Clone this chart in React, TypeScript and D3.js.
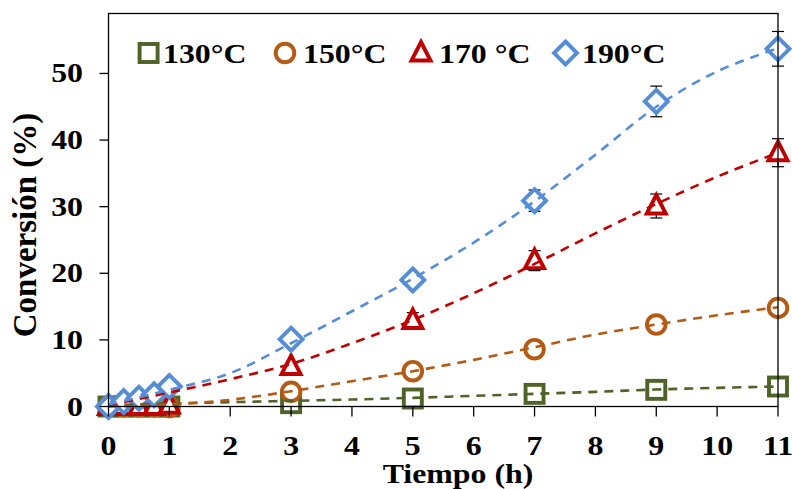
import React from "react";
import * as d3 from "d3";

const times = [0, 0.25, 0.5, 0.75, 1, 3, 5, 7, 9, 11];
const c130 = [0, 0, 0, 0, 0, 0.5, 1.2, 1.9, 2.5, 3.0];
const c150 = [0, 0, 0, 0, -0.1, 2.2, 5.3, 8.6, 12.3, 14.8];
const c170 = [0, 0, 0, 0, 0.2, 6.0, 12.9, 21.9, 30.1, 38.1];
const c190 = [0, 0.75, 1.25, 1.75, 3.0, 10.1, 19.0, 30.9, 45.8, 53.7];

const e130 = [0, 0, 0, 0, 0, 0, 0, 0, 0, 0];
const e150 = [0, 0, 0, 0, 0, 0, 0, 0, 0, 0];
const e170 = [0, 0, 0, 0, 0, 0.5, 1.2, 1.5, 1.8, 2.1];
const e190 = [0, 0, 0, 0, 0, 0.5, 0.6, 1.6, 2.3, 2.6];

// trend lines
const trendTimes = [0, 1, 2, 3, 4, 5, 6, 7, 8, 9, 10, 11];
const t130 = [0.2, 0.45, 0.65, 0.85, 1.05, 1.3, 1.6, 1.9, 2.2, 2.55, 2.8, 3.0];
const t150 = [0, 0.3, 1.0, 2.3, 3.8, 5.3, 7.0, 8.9, 10.8, 12.3, 13.7, 14.9];
const t170 = [0.2, 2.1, 4.1, 6.4, 9.5, 13.0, 17.0, 21.4, 26.0, 30.4, 34.5, 38.1];
const t190 = [0.3, 2.5, 5.0, 9.5, 14.3, 19.2, 24.6, 30.8, 37.8, 45.0, 50.3, 53.8];

const xTicks = [0, 1, 2, 3, 4, 5, 6, 7, 8, 9, 10, 11];
const yTicks = [0, 10, 20, 30, 40, 50];

const seriesNames = ["130°C", "150°C", "170 °C", "190°C"];
const colors = ["#4f6228", "#b35b14", "#c00000", "#558ed5"];
const shapes = ["square", "circle", "triangle", "diamond"];

const values = [c130, c150, c170, c190];
const errors = [e130, e150, e170, e190];
const trends = [t130, t150, t170, t190];

const W = 792;
const H = 489;
const left = 108.5;
const right = 778;
const top = 13.5;
const bottom = 406.5;

const x = d3.scaleLinear().domain([0, 11]).range([left, right]);
const y = d3.scaleLinear().domain([0, 59]).range([bottom, top]);

const FONT = "'Liberation Serif', 'Times New Roman', serif";
const SX = 1.18;

function Marker({ shape, cx, cy, color, fill }: { shape: string; cx: number; cy: number; color: string; fill: string }) {
  const sw = 3.9;
  if (shape === "square") {
    return <rect x={cx - 9} y={cy - 9} width={18} height={18} fill={fill} stroke={color} strokeWidth={sw} />;
  }
  if (shape === "circle") {
    return <circle cx={cx} cy={cy} r={9.3} fill={fill} stroke={color} strokeWidth={sw} />;
  }
  if (shape === "triangle") {
    const p = d3.path();
    p.moveTo(cx, cy - 11);
    p.lineTo(cx + 9.5, cy + 7.5);
    p.lineTo(cx - 9.5, cy + 7.5);
    p.closePath();
    return <path d={p.toString()} fill={fill} stroke={color} strokeWidth={sw} strokeLinejoin="miter" />;
  }
  const p = d3.path();
  p.moveTo(cx, cy - 11.5);
  p.lineTo(cx + 11.5, cy);
  p.lineTo(cx, cy + 11.5);
  p.lineTo(cx - 11.5, cy);
  p.closePath();
  return <path d={p.toString()} fill={fill} stroke={color} strokeWidth={sw} />;
}

function SText({ x0, y0, anchor, size, children }: any) {
  return (
    <text
      transform={`translate(${x0},${y0}) scale(${SX},1)`}
      textAnchor={anchor}
      fontFamily={FONT}
      fontWeight="bold"
      fontSize={size}
      fill="#000"
    >
      {children}
    </text>
  );
}

export default function App() {
  const line = d3
    .line<number>()
    .x((_, i) => x(trendTimes[i]))
    .y((d) => y(d))
    .curve(d3.curveCatmullRom.alpha(0.5));

  const legendItems = [
    { mx: 148.6, tx: 163 },
    { mx: 285, tx: 303 },
    { mx: 421, tx: 439 },
    { mx: 565.5, tx: 582 },
  ];

  return (
    <svg width={W} height={H} style={{ position: "absolute", left: 0, top: 0, background: "#fff" }}>
      <rect x={0} y={0} width={W} height={H} fill="#fff" />
      {/* error bars */}
      {errors.map((es, si) =>
        es.map((e, i) =>
          e > 0 ? (
            <g key={"e" + si + "-" + i} stroke="#000" strokeWidth={1.2}>
              <line x1={x(times[i])} x2={x(times[i])} y1={y(values[si][i] - e)} y2={y(values[si][i] + e)} />
              <line x1={x(times[i]) - 6} x2={x(times[i]) + 6} y1={y(values[si][i] - e)} y2={y(values[si][i] - e)} />
              <line x1={x(times[i]) - 6} x2={x(times[i]) + 6} y1={y(values[si][i] + e)} y2={y(values[si][i] + e)} />
            </g>
          ) : null
        )
      )}
      {/* markers */}
      {values.map((vs, si) =>
        vs.map((v, i) => (
          <Marker key={"m" + si + "-" + i} shape={shapes[si]} cx={x(times[i])} cy={y(v)} color={colors[si]} fill="#fff" />
        ))
      )}
      {/* trend lines */}
      {trends.map((t, si) => (
        <path
          key={"t" + si}
          d={line(t) || ""}
          fill="none"
          stroke={colors[si]}
          strokeWidth={2.6}
          strokeDasharray="9,7"
        />
      ))}
      {/* frame */}
      <rect x={left} y={top} width={right - left} height={bottom - top} fill="none" stroke="#000" strokeWidth={1.3} />
      {/* x ticks */}
      {xTicks.map((t) => (
        <g key={"xt" + t}>
          <line x1={x(t)} x2={x(t)} y1={bottom} y2={bottom + 10} stroke="#000" strokeWidth={1.3} />
          <SText x0={x(t)} y0={455} anchor="middle" size={27}>
            {t}
          </SText>
        </g>
      ))}
      {/* y ticks */}
      {yTicks.map((t) => (
        <g key={"yt" + t}>
          <line x1={left - 9} x2={left} y1={y(t)} y2={y(t)} stroke="#000" strokeWidth={1.3} />
          <SText x0={83} y0={y(t) + 9} anchor="end" size={27}>
            {t}
          </SText>
        </g>
      ))}
      {/* axis titles */}
      <SText x0={458} y0={483} anchor="middle" size={27}>
        Tiempo (h)
      </SText>
      <text
        transform={`translate(36,225) rotate(-90)`}
        textAnchor="middle"
        fontFamily={FONT}
        fontWeight="bold"
        fontSize={33}
        fill="#000"
      >
        Conversión (%)
      </text>
      {/* legend */}
      {legendItems.map((it, si) => (
        <g key={"lg" + si}>
          <Marker shape={shapes[si]} cx={it.mx} cy={53} color={colors[si]} fill="none" />
          <SText x0={it.tx} y0={63} anchor="start" size={27}>
            {seriesNames[si]}
          </SText>
        </g>
      ))}
    </svg>
  );
}
